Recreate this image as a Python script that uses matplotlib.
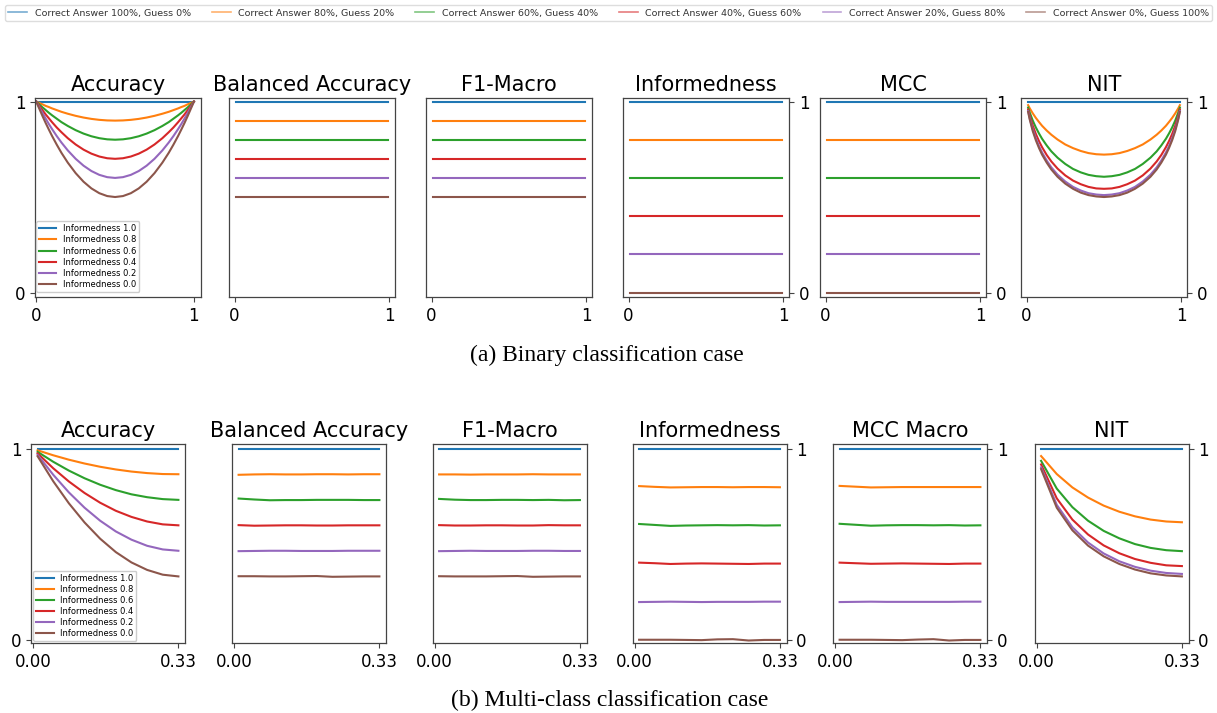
import matplotlib
matplotlib.use("Agg")
import matplotlib.pyplot as plt
from matplotlib.lines import Line2D

W, H = 1217, 713
fig = plt.figure(figsize=(W/100, H/100), dpi=100)

# ---------------- data ----------------
informedness = [1.0, 0.8, 0.6, 0.4, 0.2, 0.0]
inner_labels = ["Informedness 1.0", "Informedness 0.8", "Informedness 0.6",
                "Informedness 0.4", "Informedness 0.2", "Informedness 0.0"]
top_labels = ["Correct Answer 100%, Guess 0%", "Correct Answer 80%, Guess 20%",
              "Correct Answer 60%, Guess 40%", "Correct Answer 40%, Guess 60%",
              "Correct Answer 20%, Guess 80%", "Correct Answer 0%, Guess 100%"]
colors = ["#1f77b4", "#ff7f0e", "#2ca02c", "#d62728", "#9467bd", "#8c564b"]

binary_titles = ["Accuracy", "Balanced Accuracy", "F1-Macro", "Informedness", "MCC", "NIT"]
multi_titles = ["Accuracy", "Balanced Accuracy", "F1-Macro", "Informedness", "MCC Macro", "NIT"]

# binary case: prevalence of the positive class
x_bin = [0.01, 0.02, 0.04, 0.06, 0.08, 0.1, 0.13, 0.16, 0.2, 0.25, 0.3, 0.35, 0.4, 0.45, 0.5,
         0.55, 0.6, 0.65, 0.7, 0.75, 0.8, 0.84, 0.87, 0.9, 0.92, 0.94, 0.96, 0.98, 0.99]
x_bin_acc = [0.0] + x_bin + [1.0]

acc_bin = [
    [1.0] * 31,
    [1.0, 0.996, 0.992, 0.985, 0.977, 0.971, 0.964, 0.955, 0.946, 0.936, 0.925, 0.916, 0.909, 0.904, 0.901, 0.900,
     0.901, 0.904, 0.909, 0.916, 0.925, 0.936, 0.946, 0.955, 0.964, 0.971, 0.977, 0.985, 0.992, 0.996, 1.0],
    [1.0, 0.992, 0.984, 0.969, 0.955, 0.941, 0.928, 0.910, 0.892, 0.872, 0.850, 0.832, 0.818, 0.808, 0.802, 0.800,
     0.802, 0.808, 0.818, 0.832, 0.850, 0.872, 0.892, 0.910, 0.928, 0.941, 0.955, 0.969, 0.984, 0.992, 1.0],
    [1.0, 0.988, 0.976, 0.954, 0.932, 0.912, 0.892, 0.864, 0.839, 0.808, 0.775, 0.748, 0.727, 0.712, 0.703, 0.700,
     0.703, 0.712, 0.727, 0.748, 0.775, 0.808, 0.839, 0.864, 0.892, 0.912, 0.932, 0.954, 0.976, 0.988, 1.0],
    [1.0, 0.984, 0.969, 0.939, 0.910, 0.882, 0.856, 0.819, 0.785, 0.744, 0.700, 0.664, 0.636, 0.616, 0.604, 0.600,
     0.604, 0.616, 0.636, 0.664, 0.700, 0.744, 0.785, 0.819, 0.856, 0.882, 0.910, 0.939, 0.969, 0.984, 1.0],
    [1.0, 0.980, 0.961, 0.923, 0.887, 0.853, 0.820, 0.774, 0.731, 0.680, 0.625, 0.580, 0.545, 0.520, 0.505, 0.500,
     0.505, 0.520, 0.545, 0.580, 0.625, 0.680, 0.731, 0.774, 0.820, 0.853, 0.887, 0.923, 0.961, 0.980, 1.0],
]
ba_bin = [1.0, 0.9, 0.8, 0.7, 0.6, 0.5]
f1_bin = [1.0, 0.9, 0.8, 0.7, 0.6, 0.5]
inf_bin = [1.0, 0.8, 0.6, 0.4, 0.2, 0.0]
mcc_bin = [1.0, 0.8, 0.6, 0.4, 0.2, 0.0]
nit_bin = [
    [1.0] * 29,
    [0.981, 0.965, 0.938, 0.914, 0.893, 0.873, 0.848, 0.826, 0.801, 0.775, 0.756, 0.741, 0.730, 0.724, 0.722,
     0.724, 0.730, 0.741, 0.756, 0.775, 0.801, 0.826, 0.848, 0.873, 0.893, 0.914, 0.938, 0.965, 0.981],
    [0.968, 0.943, 0.900, 0.864, 0.833, 0.805, 0.770, 0.739, 0.706, 0.673, 0.647, 0.629, 0.616, 0.609, 0.606,
     0.609, 0.616, 0.629, 0.647, 0.673, 0.706, 0.739, 0.770, 0.805, 0.833, 0.864, 0.900, 0.943, 0.968],
    [0.958, 0.926, 0.873, 0.830, 0.793, 0.761, 0.720, 0.686, 0.649, 0.613, 0.586, 0.567, 0.553, 0.545, 0.543,
     0.545, 0.553, 0.567, 0.586, 0.613, 0.649, 0.686, 0.720, 0.761, 0.793, 0.830, 0.873, 0.926, 0.958],
    [0.950, 0.913, 0.854, 0.807, 0.767, 0.733, 0.691, 0.655, 0.617, 0.581, 0.553, 0.534, 0.520, 0.513, 0.510,
     0.513, 0.520, 0.534, 0.553, 0.581, 0.617, 0.655, 0.691, 0.733, 0.767, 0.807, 0.854, 0.913, 0.950],
    [0.946, 0.907, 0.845, 0.797, 0.757, 0.722, 0.680, 0.644, 0.606, 0.570, 0.543, 0.523, 0.510, 0.503, 0.500,
     0.503, 0.510, 0.523, 0.543, 0.570, 0.606, 0.644, 0.680, 0.722, 0.757, 0.797, 0.845, 0.907, 0.946],
]

# multi-class case: probability of each minority class
x_multi = [0.01, 0.0456, 0.0811, 0.1167, 0.1522, 0.1878, 0.2233, 0.2589, 0.2944, 0.33]
acc_multi = [
    [1.0] * 10,
    [0.992, 0.966, 0.943, 0.923, 0.906, 0.892, 0.881, 0.873, 0.868, 0.867],
    [0.984, 0.932, 0.886, 0.846, 0.812, 0.784, 0.762, 0.747, 0.737, 0.733],
    [0.976, 0.898, 0.829, 0.769, 0.718, 0.676, 0.644, 0.620, 0.605, 0.600],
    [0.968, 0.864, 0.772, 0.692, 0.624, 0.568, 0.525, 0.493, 0.474, 0.467],
    [0.961, 0.830, 0.715, 0.615, 0.530, 0.460, 0.406, 0.367, 0.342, 0.333],
]
ba_multi = [
    [1.0] * 10,
    [0.864, 0.866, 0.867, 0.866, 0.866, 0.867, 0.867, 0.866, 0.867, 0.867],
    [0.740, 0.735, 0.731, 0.732, 0.732, 0.733, 0.733, 0.733, 0.732, 0.732],
    [0.601, 0.598, 0.599, 0.600, 0.600, 0.599, 0.599, 0.600, 0.600, 0.600],
    [0.465, 0.466, 0.467, 0.467, 0.466, 0.466, 0.466, 0.467, 0.467, 0.467],
    [0.334, 0.334, 0.333, 0.333, 0.334, 0.335, 0.331, 0.332, 0.333, 0.333],
]
f1_multi = [
    [1.0] * 10,
    [0.866, 0.866, 0.865, 0.866, 0.866, 0.866, 0.867, 0.866, 0.866, 0.866],
    [0.738, 0.734, 0.732, 0.732, 0.733, 0.733, 0.732, 0.733, 0.731, 0.732],
    [0.601, 0.599, 0.599, 0.600, 0.600, 0.599, 0.599, 0.601, 0.600, 0.600],
    [0.465, 0.466, 0.467, 0.466, 0.466, 0.466, 0.467, 0.467, 0.466, 0.466],
    [0.334, 0.333, 0.333, 0.333, 0.334, 0.335, 0.331, 0.332, 0.333, 0.333],
]
inf_multi = [
    [1.0] * 10,
    [0.805, 0.801, 0.798, 0.799, 0.800, 0.800, 0.799, 0.800, 0.800, 0.799],
    [0.607, 0.602, 0.597, 0.599, 0.600, 0.601, 0.600, 0.601, 0.599, 0.600],
    [0.405, 0.402, 0.398, 0.400, 0.401, 0.400, 0.399, 0.398, 0.400, 0.400],
    [0.199, 0.200, 0.201, 0.200, 0.199, 0.200, 0.200, 0.200, 0.201, 0.201],
    [0.002, 0.002, 0.002, 0.001, 0.000, 0.004, 0.005, -0.002, 0.001, 0.001],
]
mcc_multi = [
    [1.0] * 10,
    [0.806, 0.802, 0.798, 0.799, 0.800, 0.800, 0.800, 0.800, 0.800, 0.800],
    [0.608, 0.603, 0.598, 0.600, 0.601, 0.601, 0.600, 0.601, 0.599, 0.600],
    [0.405, 0.402, 0.399, 0.400, 0.401, 0.400, 0.399, 0.398, 0.400, 0.400],
    [0.199, 0.200, 0.201, 0.200, 0.200, 0.200, 0.200, 0.200, 0.201, 0.201],
    [0.002, 0.002, 0.002, 0.001, 0.000, 0.003, 0.005, -0.002, 0.001, 0.001],
]
nit_multi = [
    [1.0] * 10,
    [0.962, 0.868, 0.798, 0.745, 0.703, 0.671, 0.647, 0.630, 0.620, 0.616],
    [0.937, 0.792, 0.695, 0.624, 0.571, 0.532, 0.502, 0.482, 0.470, 0.465],
    [0.918, 0.741, 0.630, 0.552, 0.495, 0.454, 0.424, 0.404, 0.391, 0.387],
    [0.903, 0.707, 0.590, 0.510, 0.453, 0.412, 0.383, 0.363, 0.351, 0.346],
    [0.894, 0.692, 0.574, 0.494, 0.438, 0.398, 0.369, 0.349, 0.338, 0.333],
]

# ---------------- layout ----------------
TITLE_FS = 15
TICK_FS = 12

def make_ax(left, top, width, height):
    return fig.add_axes([left / W, 1 - (top + height) / H, width / W, height / H])

def style(ax, title, ytick_side, xticks, xticklabels, xlim, ylim):
    ax.set_title(title, fontsize=TITLE_FS, pad=5)
    ax.set_xlim(*xlim)
    ax.set_ylim(*ylim)
    ax.set_xticks(xticks)
    ax.set_xticklabels(xticklabels)
    ax.tick_params(labelsize=TICK_FS, length=3.5, width=0.8, color="#444444")
    if ytick_side == "left":
        ax.set_yticks([0, 1])
        ax.set_yticklabels(["0", "1"])
    elif ytick_side == "right":
        ax.yaxis.tick_right()
        ax.set_yticks([0, 1])
        ax.set_yticklabels(["0", "1"])
    else:
        ax.set_yticks([])
    for s in ax.spines.values():
        s.set_color("#444444")
        s.set_linewidth(0.9)

LW = 1.5
ytick_sides = ["left", "none", "none", "right", "right", "right"]

# binary row
bin_lefts = [35, 229, 426, 623, 820, 1021]
bin_top, bin_w, bin_h = 97.5, 166, 200
bin_ylim = (-0.026, 1.021)
for k, (left, title) in enumerate(zip(bin_lefts, binary_titles)):
    ax = make_ax(left, bin_top, bin_w, bin_h)
    for i in range(6):
        if k == 0:
            ax.plot(x_bin_acc, acc_bin[i], color=colors[i], lw=LW, label=inner_labels[i])
        elif k == 5:
            ax.plot(x_bin, nit_bin[i], color=colors[i], lw=LW)
        else:
            vals = [ba_bin, f1_bin, inf_bin, mcc_bin][k - 1]
            ax.plot([x_bin[0], x_bin[-1]], [vals[i], vals[i]], color=colors[i], lw=LW)
    xlim = (-0.008, 1.045) if k == 0 else (-0.036, 1.036)
    style(ax, title, ytick_sides[k], [0, 1], ["0", "1"], xlim, bin_ylim)
    if k == 0:
        ax.legend(loc="lower left", bbox_to_anchor=(0.0, 0.025), borderaxespad=0.1,
                  fontsize=6, labelspacing=0.25, borderpad=0.35, handlelength=2.1,
                  handletextpad=0.8, framealpha=1, edgecolor="#cccccc", fancybox=True)

# multi-class row
multi_lefts = [31, 232, 432.5, 632.5, 833, 1034.5]
multi_top, multi_w, multi_h = 444, 154, 199
multi_ylim = (-0.015, 1.025)
multi_data = [acc_multi, ba_multi, f1_multi, inf_multi, mcc_multi, nit_multi]
for k, (left, title) in enumerate(zip(multi_lefts, multi_titles)):
    ax = make_ax(left, multi_top, multi_w, multi_h)
    for i in range(6):
        ax.plot(x_multi, multi_data[k][i], color=colors[i], lw=LW, label=inner_labels[i])
    style(ax, title, ytick_sides[k], [0, 0.33], ["0.00", "0.33"], (-0.005, 0.345), multi_ylim)
    if k == 0:
        ax.legend(loc="lower left", bbox_to_anchor=(0.0, 0.0), borderaxespad=0.25,
                  fontsize=6, labelspacing=0.25, borderpad=0.35, handlelength=2.1,
                  handletextpad=0.8, framealpha=1, edgecolor="#cccccc", fancybox=True)

# top legend
handles = [Line2D([], [], color=c, lw=1.2, alpha=0.6) for c in colors]
fig.legend(handles, top_labels, loc="lower left", ncol=6, mode="expand",
           bbox_to_anchor=(5 / W, 1 - 21 / H, 1207 / W, 18 / H), borderaxespad=0,
           fontsize=6.8, labelcolor="#333333", frameon=True, edgecolor="#dddddd",
           framealpha=1, handlelength=2.0, borderpad=0.35, columnspacing=1.0)

# captions
fig.text(607 / W, 1 - 355 / H, "(a) Binary classification case", ha="center", va="center",
         fontsize=17, family="Liberation Serif")
fig.text(610 / W, 1 - 700 / H, "(b) Multi-class classification case", ha="center", va="center",
         fontsize=17, family="Liberation Serif")

fig.savefig("out.png", dpi=100)
